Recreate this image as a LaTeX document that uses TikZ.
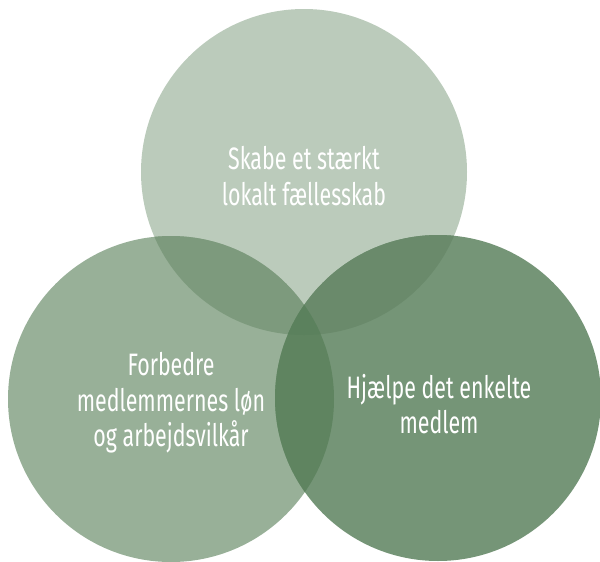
\documentclass[tikz,border=0pt]{standalone}
\usepackage{fontspec}
\setmainfont{Fira Sans}[FakeStretch=0.69]
\definecolor{topfill}{HTML}{BBCBBB}
\definecolor{leftfill}{HTML}{98B098}
\definecolor{rightfill}{HTML}{759577}
\definecolor{tlfill}{HTML}{7D9A7D}
\definecolor{trfill}{HTML}{6A8A6B}
\definecolor{lrfill}{HTML}{5F8460}
\definecolor{midfill}{HTML}{5B815D}

\begin{document}
\begin{tikzpicture}[x=1pt,y=-1pt,
	label text/.style={text=white,align=center,font=\fontsize{31}{35.5}\selectfont,inner sep=0pt}]
			\useasboundingbox (0,0) rectangle (600,562);
			\coordinate (top) at (304,172);
			\coordinate (left) at (171,399);
			\coordinate (right) at (438,398);
			\fill[topfill] (top) circle (163pt);
			\fill[leftfill] (left) circle (163pt);
			\fill[rightfill] (right) circle (163pt);
			\begin{scope}
			\clip (top) circle (163pt);
			\fill[tlfill] (left) circle (163pt);
			\fill[trfill] (right) circle (163pt);
			\end{scope}
			\begin{scope}
			\clip (left) circle (163pt);
			\fill[lrfill] (right) circle (163pt);
			\clip (top) circle (163pt);
			\fill[midfill] (right) circle (163pt);
			\end{scope}
			\node[label text](skabe) at (304,176) {Skabe et stærkt\\lokalt fællesskab};
			\node[label text](forbedre) at (171,403) {Forbedre\\medlemmernes løn\\og arbejdsvilkår};
			\node[label text](hjaelpe) at (439,404) {Hjælpe det enkelte\\medlem};
			\end{tikzpicture}
\end{document}
